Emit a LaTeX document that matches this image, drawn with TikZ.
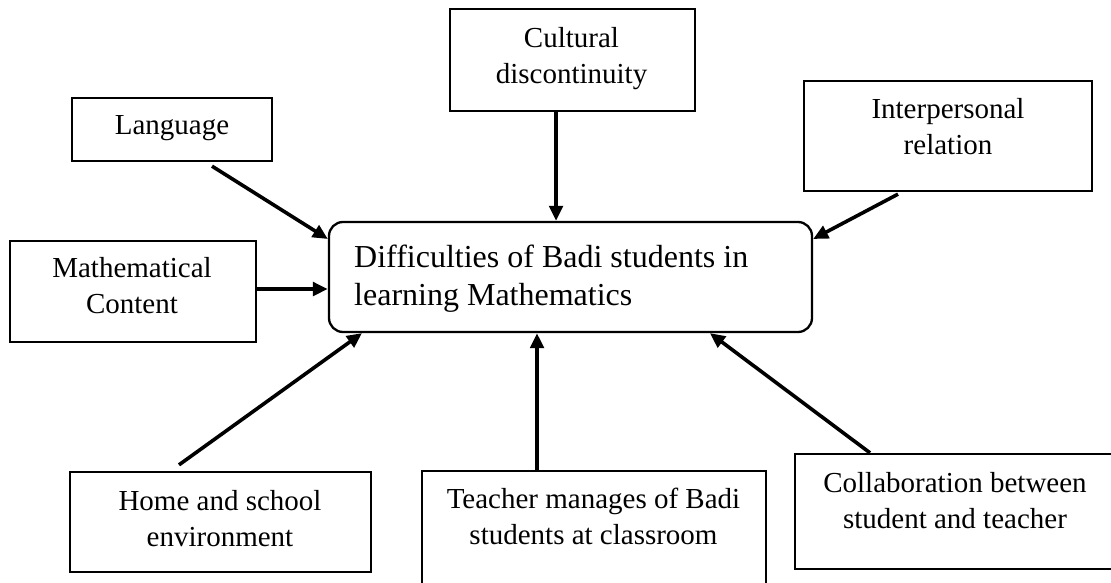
\documentclass[tikz,border=0pt]{standalone}
\usepackage{fontspec}
\setmainfont{Liberation Serif}
\usetikzlibrary{arrows.meta}
\begin{document}
\begin{tikzpicture}[x=1pt,y=-1pt,
  factor/.style={draw, line width=2.3pt, rectangle, inner sep=0pt},
  hub/.style={draw, line width=2.3pt, rounded corners=14pt, inner sep=0pt,
    minimum width=483pt, minimum height=110pt},
  caption/.style={inner sep=0pt, align=center, anchor=north,
    font=\fontsize{29}{36}\selectfont},
  link/.style={line width=3.6pt, -{Triangle[length=15pt,width=13.5pt]}}]
\clip (0,0) rectangle (1111,583);
\fill[white] (0,0) rectangle (1111,583);

% central box
\node[hub] (centre) at (570.5,277) {};
\node[inner sep=0pt, align=left, anchor=north west,
  font=\fontsize{32}{38}\selectfont] (centretext) at (354,243)
  {\rule{0pt}{24pt}Difficulties of Badi students in\\learning Mathematics};

% surrounding factors
\node[factor, minimum width=200pt, minimum height=63pt] (lang) at (172,129.5) {};
\node[caption, anchor=base] (langtext) at (172,135) {Language};

\node[factor, minimum width=245pt, minimum height=102pt] (cult) at (572.5,60) {};
\node[caption] (culttext) at (571.5,25) {\rule{0pt}{22pt}Cultural\\discontinuity};

\node[factor, minimum width=288pt, minimum height=110pt] (inter) at (948,136) {};
\node[caption] (intertext) at (948,96) {\rule{0pt}{22pt}Interpersonal\\relation};

\node[factor, minimum width=246pt, minimum height=101pt] (math) at (133,291.5) {};
\node[caption] (mathtext) at (132,255) {\rule{0pt}{22pt}Mathematical\\Content};

\node[factor, minimum width=301pt, minimum height=100pt] (home) at (220.5,522) {};
\node[caption] (hometext) at (220,488) {\rule{0pt}{22pt}Home and school\\environment};

\node[factor, minimum width=344pt, minimum height=140pt] (teach) at (594,541) {};
\node[caption] (teachtext) at (593.5,486) {\rule{0pt}{22pt}Teacher manages of Badi\\students at classroom};

\node[factor, minimum width=322pt, minimum height=115pt] (collab) at (956,511.5) {};
\node[caption] (collabtext) at (955,470) {\rule{0pt}{22pt}Collaboration between\\student and teacher};

% influences on the central difficulty
\draw[link] ([xshift=40pt,yshift=-4pt]lang.south) -- ([yshift=38pt]centre.west);
\draw[link] ([yshift=2.5pt]math.east) -- ([yshift=-12pt]centre.west);
\draw[link] ([xshift=-16.5pt]cult.south) -- ([xshift=-14.5pt]centre.north);
\draw[link] ([xshift=-50pt,yshift=-2pt]inter.south) -- ([yshift=38pt]centre.east);
\draw[link] ([xshift=-41.5pt,yshift=6pt]home.north) -- ([xshift=-208.5pt]centre.south);
\draw[link] ([xshift=-57pt]teach.north) -- ([xshift=-33.5pt]centre.south);
\draw[link] ([xshift=-86pt]collab.north) -- ([xshift=139.5pt]centre.south);
\end{tikzpicture}
\end{document}
